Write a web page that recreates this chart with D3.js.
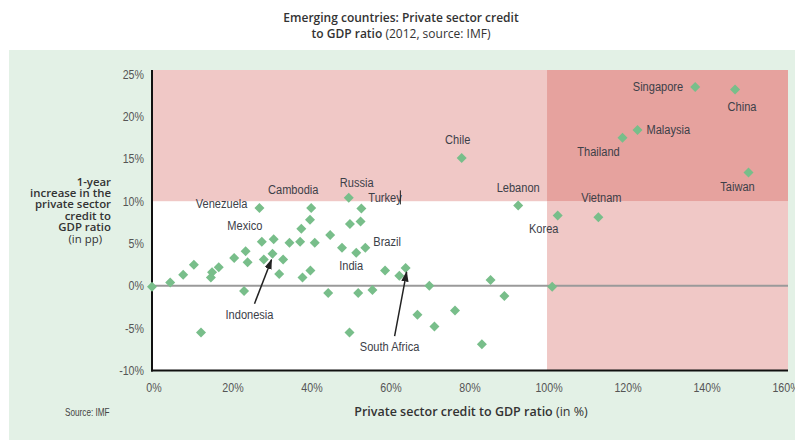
<!DOCTYPE html>
<html>
<head>
<meta charset="utf-8">
<title>Private sector credit to GDP ratio</title>
<style>
  body { margin: 0; background: #fff; }
  .tick-label { font-family: "Liberation Sans", Arial, sans-serif; font-size: 13px; fill: #555; }
  .pt-label { font-family: "Liberation Sans", Arial, sans-serif; font-size: 13.5px; fill: #3c4048; }
  .title { font-family: "Open Sans", sans-serif; font-size: 12px; fill: #333; }
  .ytitle { font-family: "Open Sans", sans-serif; font-size: 11.4px; fill: #333; }
</style>
<script src="https://d3js.org/d3.v7.min.js"></script>
</head>
<body>
<svg width="795" height="440"></svg>
<script>
// private sector credit to GDP (%), 1-year change (pp), country
var credit = [0, 4.6, 7.9, 10.6, 12.4, 14.9, 15.2, 16.9, 20.8, 23.3, 23.7, 24.2,
  27.2, 27.8, 28.3, 30.5, 30.8, 32.2, 33.2, 34.8, 37.5, 37.8, 38.1, 40.0, 40.1,
  40.3, 41.2, 44.6, 45.1, 48.1, 49.8, 50.0, 50.1, 51.7, 52.2, 52.8, 53.0, 54.0,
  55.8, 59.0, 62.6, 64.2, 67.2, 70.2, 71.5, 76.7, 78.4, 83.5, 85.7, 89.2, 92.7,
  101.3, 102.7, 113.0, 119.1, 122.9, 137.5, 147.6, 151.0];
var change = [-0.1, 0.4, 1.3, 2.5, -5.5, 1.0, 1.6, 2.2, 3.3, -0.6, 4.1, 2.8,
  9.2, 5.2, 3.1, 3.8, 5.5, 1.4, 3.1, 5.1, 5.2, 6.75, 1.0, 7.8, 1.8,
  9.2, 5.1, -0.85, 6.0, 4.5, 10.4, -5.5, 7.3, 3.9, -0.85, 7.6, 9.15, 4.5,
  -0.5, 1.8, 1.2, 2.1, -3.4, 0.0, -4.8, -2.9, 15.1, -6.9, 0.7, -1.2, 9.5,
  -0.1, 8.3, 8.1, 17.5, 18.4, 23.5, 23.2, 13.4];
var country = ["", "", "", "", "", "", "", "", "", "", "", "",
  "Venezuela", "Mexico", "", "Indonesia", "", "", "", "", "", "", "", "", "",
  "Cambodia", "", "", "", "", "Russia", "", "", "India", "", "", "Turkey", "Brazil",
  "", "", "", "South Africa", "", "", "", "", "Chile", "", "", "", "Lebanon",
  "", "Korea", "Vietnam", "Thailand", "Malaysia", "Singapore", "China", "Taiwan"];

var xTicks = [0, 20, 40, 60, 80, 100, 120, 140, 160];
var yTicks = [-10, -5, 0, 5, 10, 15, 20, 25];

// label placement: [dx, dy, anchor] relative to the marker
var labelPos = {
  "Venezuela": [-12, -5, "end"], "Cambodia": [-18, -19, "middle"],
  "Russia": [8, -16, "middle"], "Turkey": [7, -11, "start"],
  "Mexico": [-17, -17, "middle"], "Brazil": [8, -6, "start"],
  "India": [-5, 12, "middle"], "Indonesia": [-23, 61, "middle"],
  "South Africa": [-16, 78, "middle"], "Chile": [-4, -19, "middle"],
  "Lebanon": [0, -18, "middle"], "Korea": [-14, 13, "middle"],
  "Vietnam": [3, -20, "middle"], "Thailand": [-24, 14, "middle"],
  "Malaysia": [9, -1, "start"], "Singapore": [-12, -1, "end"],
  "China": [7, 17, "middle"], "Taiwan": [-11, 14, "middle"]
};
// arrows: [tail dx, tail dy, tip dx, tip dy]
var arrows = { "Indonesia": [-18, 50, -1, 6], "South Africa": [-11, 68, 1, 4] };

var data = credit.map(function(c, i) { return {x: c, y: change[i], name: country[i]}; });

var svg = d3.select("svg");
var x = d3.scaleLinear().domain([0, 161]).range([152, 788]);
var y = d3.scaleLinear().domain([-10, 25.5]).range([370.5, 70]);
var narrow = 0.82;  // fake Arial Narrow

svg.append("defs").append("marker")
    .attr("id", "arr").attr("viewBox", "0 0 10 10").attr("refX", 9).attr("refY", 5)
    .attr("markerWidth", 7).attr("markerHeight", 7).attr("orient", "auto")
  .append("path").attr("d", "M0,1.5L10,5L0,8.5z").attr("fill", "#222");

// background panel
svg.append("rect").attr("x", 9).attr("y", 50).attr("width", 786).attr("height", 390)
    .attr("fill", "#e3f1e6");

// plot area + shaded zones
svg.append("rect").attr("x", x(0)).attr("y", y(25.5)).attr("width", x(161) - x(0))
    .attr("height", y(-10) - y(25.5)).attr("fill", "#fff");
svg.append("rect").attr("x", x(0)).attr("y", y(25.5)).attr("width", x(161) - x(0))
    .attr("height", y(10) - y(25.5)).attr("fill", "#f0c8c6");
svg.append("rect").attr("x", x(100)).attr("y", y(10)).attr("width", x(161) - x(100))
    .attr("height", y(-10) - y(10)).attr("fill", "#f0c8c6");
svg.append("rect").attr("x", x(100)).attr("y", y(25.5)).attr("width", x(161) - x(100))
    .attr("height", y(10) - y(25.5)).attr("fill", "#e6a29e");

// zero line
svg.append("line").attr("x1", x(0)).attr("x2", x(161)).attr("y1", y(0)).attr("y2", y(0))
    .attr("stroke", "#9a9a9a").attr("stroke-width", 2);

// axes lines
svg.append("line").attr("x1", x(0)).attr("x2", x(0)).attr("y1", y(25.5)).attr("y2", y(-10) + 1)
    .attr("stroke", "#111").attr("stroke-width", 2);
svg.append("line").attr("x1", x(0) - 1).attr("x2", x(161)).attr("y1", y(-10)).attr("y2", y(-10))
    .attr("stroke", "#111").attr("stroke-width", 2);

// tick labels
svg.selectAll(".ytl").data(yTicks).enter().append("text")
    .attr("class", "tick-label")
    .attr("transform", function(d) { return "translate(144," + y(d) + ") scale(" + narrow + ",1)"; })
    .attr("dy", "0.35em").attr("text-anchor", "end")
    .text(function(d) { return d + "%"; });
svg.selectAll(".xtl").data(xTicks).enter().append("text")
    .attr("class", "tick-label")
    .attr("transform", function(d) { return "translate(" + (x(d) + 2) + ",387) scale(" + narrow + ",1)"; })
    .attr("dy", "0.35em").attr("text-anchor", "middle")
    .text(function(d) { return d + "%"; });

// diamonds
svg.selectAll(".pt").data(data).enter().append("path")
    .attr("d", d3.symbol().type(d3.symbolSquare).size(50))
    .attr("transform", function(d) { return "translate(" + x(d.x) + "," + y(d.y) + ") rotate(45)"; })
    .attr("fill", "#78be8a");

// labels
var labelled = data.filter(function(d) { return d.name; });
svg.selectAll(".pt-label").data(labelled).enter().append("text")
    .attr("class", "pt-label")
    .attr("transform", function(d) {
      var p = labelPos[d.name];
      return "translate(" + (x(d.x) + p[0]) + "," + (y(d.y) + p[1]) + ") scale(" + narrow + ",1)";
    })
    .attr("dy", "0.35em")
    .attr("text-anchor", function(d) { return labelPos[d.name][2]; })
    .text(function(d) { return d.name; });

// stray bar after Turkey
var tk = labelled.filter(function(d) { return d.name === "Turkey"; })[0];
svg.append("line").attr("x1", x(tk.x) + 39).attr("x2", x(tk.x) + 39)
    .attr("y1", y(tk.y) - 18).attr("y2", y(tk.y) - 4).attr("stroke", "#222").attr("stroke-width", 1);

labelled.filter(function(d) { return arrows[d.name]; }).forEach(function(d) {
  var a = arrows[d.name];
  svg.append("line")
      .attr("x1", x(d.x) + a[0]).attr("y1", y(d.y) + a[1])
      .attr("x2", x(d.x) + a[2]).attr("y2", y(d.y) + a[3])
      .attr("stroke", "#222").attr("stroke-width", 1.5).attr("marker-end", "url(#arr)");
});

// title
var t = svg.append("text").attr("class", "title").attr("x", 401).attr("y", 22).attr("text-anchor", "middle");
t.append("tspan").attr("font-weight", 600).text("Emerging countries: Private sector credit");
var t2 = svg.append("text").attr("class", "title").attr("x", 401).attr("y", 38).attr("text-anchor", "middle");
t2.append("tspan").attr("font-weight", 600).text("to GDP ratio ");
t2.append("tspan").text("(2012, source: IMF)");

// y axis title
var yLines = ["1-year", "increase in the", "private sector", "credit to", "GDP ratio"];
svg.selectAll(".ytitle").data(yLines).enter().append("text")
    .attr("class", "ytitle").attr("x", 111).attr("y", function(d, i) { return 185.5 + i * 11.4; })
    .attr("text-anchor", "end").attr("font-weight", 600).text(function(d) { return d; });
svg.append("text").attr("class", "ytitle").attr("x", 102).attr("y", 185.5 + 5 * 11.4)
    .attr("text-anchor", "end").text("(in pp)");

// x axis title
var xt = svg.append("text").attr("class", "title").attr("x", 471).attr("y", 416)
    .attr("text-anchor", "middle").style("font-size", "12.5px");
xt.append("tspan").attr("font-weight", 600).text("Private sector credit to GDP ratio ");
xt.append("tspan").text("(in %)");

svg.append("text").attr("transform", "translate(65,416) scale(" + narrow + ",1)")
    .style("font-family", "'Liberation Sans', sans-serif").style("font-size", "10px")
    .attr("fill", "#444").text("Source: IMF");
</script>
</body>
</html>
